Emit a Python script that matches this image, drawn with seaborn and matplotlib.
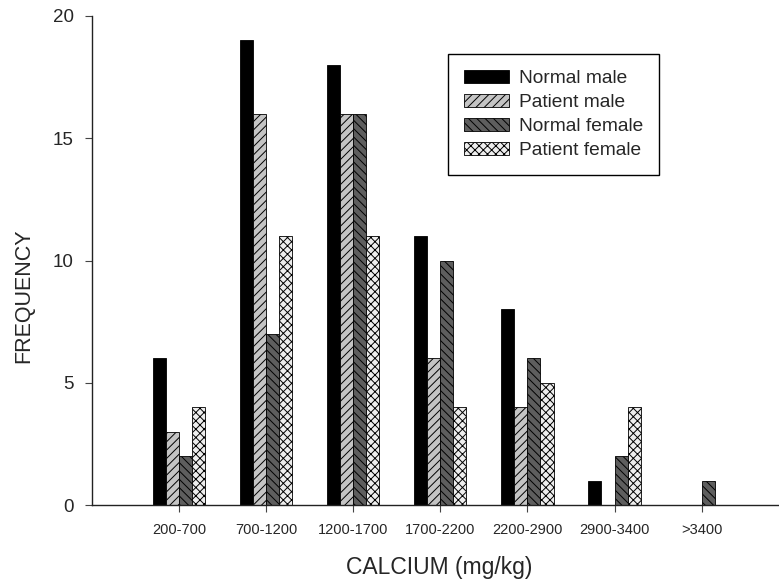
import matplotlib
matplotlib.use("Agg")
import matplotlib.pyplot as plt
import pandas as pd
import seaborn as sns
from matplotlib.patches import Patch

# Calcium ranges and frequency counts per group
ranges = ["200-700", "700-1200", "1200-1700", "1700-2200", "2200-2900", "2900-3400", ">3400"]
groups = ["Normal male", "Patient male", "Normal female", "Patient female"]
normal_male = [6, 19, 18, 11, 8, 1, 0]
patient_male = [3, 16, 16, 6, 4, 0, 0]
normal_female = [2, 7, 16, 10, 6, 2, 1]
patient_female = [4, 11, 11, 4, 5, 4, 0]

fills = ["#000000", "#c4c4c4", "#5e5e5e", "#eeeeee"]
hatches = ["", "////", "\\\\\\\\", "xxxx"]

rows = []
for g, vals in zip(groups, [normal_male, patient_male, normal_female, patient_female]):
    for r, v in zip(ranges, vals):
        rows.append({"range": r, "freq": v, "group": g})
df = pd.DataFrame(rows)

sns.set_style("ticks")
plt.rcParams["font.family"] = ["Liberation Sans", "DejaVu Sans"]
plt.rcParams["hatch.linewidth"] = 0.7

fig = plt.figure(figsize=(7.79, 5.83), dpi=100)
ax = fig.add_axes([92 / 779, 1 - 505 / 583, 1 - 92 / 779 - 0.001, (505 - 16) / 583])

sns.barplot(data=df, x="range", y="freq", hue="group", order=ranges, hue_order=groups,
            palette=fills, saturation=1, width=0.6, gap=0, edgecolor="black",
            linewidth=0.6, legend=False, ax=ax)

for container, h in zip(ax.containers, hatches):
    for bar in container:
        bar.set_hatch(h)

ax.set_xlim(-1, 6.88)
ax.set_ylim(0, 20)
ax.set_yticks([0, 5, 10, 15, 20])

for side in ["top", "right"]:
    ax.spines[side].set_visible(False)
for side in ["left", "bottom"]:
    ax.spines[side].set_color("#222222")
    ax.spines[side].set_linewidth(1.0)

ax.tick_params(axis="y", direction="out", length=5, width=0.8, color="#444444",
               labelsize=13.5, pad=8)
ax.tick_params(axis="x", direction="out", length=5, width=0.8, color="#444444",
               labelsize=10.5, pad=8)

ax.set_xlabel("CALCIUM (mg/kg)", fontsize=16.5)
ax.set_ylabel("FREQUENCY", fontsize=15.5)
ax.xaxis.set_label_coords((440 - 92) / 687, (505 - 556) / 489)
ax.yaxis.set_label_coords((34 - 92) / 687, (505 - 296) / 489)

handles = [Patch(facecolor=f, edgecolor="black", hatch=h, linewidth=0.6, label=g)
           for f, h, g in zip(fills, hatches, groups)]
leg = ax.legend(handles=handles, loc="upper left",
                bbox_to_anchor=(448 / 779, 1 - 54 / 583), bbox_transform=fig.transFigure,
                borderaxespad=0, fontsize=13.8, frameon=True, fancybox=False,
                framealpha=1, edgecolor="black", handlelength=2.35, handleheight=0.7,
                handletextpad=0.55, labelspacing=0.34, borderpad=0.82)
leg.get_frame().set_linewidth(1.0)

fig.savefig("out.png", dpi=100)
